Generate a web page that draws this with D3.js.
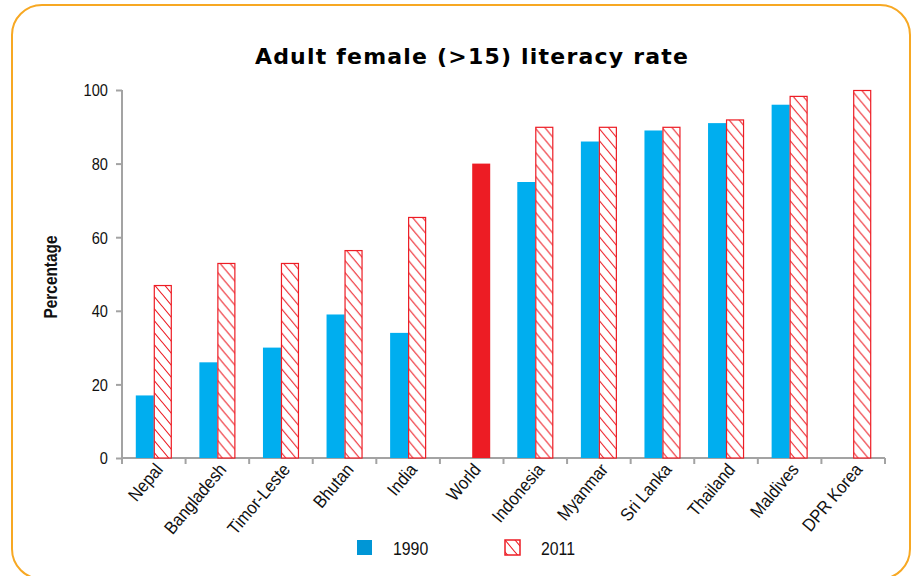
<!DOCTYPE html>
<html>
<head>
<meta charset="utf-8">
<script src="https://cdn.jsdelivr.net/npm/d3@7"></script>
<style>
  body { margin: 0; background: #fff; }
  .lbl { font-family: "Liberation Sans", Arial, sans-serif; fill: #111; }
</style>
</head>
<body>
<svg id="chart" width="913" height="576"></svg>
<script>
var countries = ["Nepal", "Bangladesh", "Timor-Leste", "Bhutan", "India", "World",
                 "Indonesia", "Myanmar", "Sri Lanka", "Thailand", "Maldives", "DPR Korea"];
var v1990 = [17, 26, 30, 39, 34, null, 75, 86, 89, 91, 96, null];
var v2011 = [47, 53, 53, 56.5, 65.5, 80, 90, 90, 90, 92, 98.4, 100];
var series = ["1990", "2011"];
var yTicks = [0, 20, 40, 60, 80, 100];
var highlight = "World";

var svg = d3.select("#chart"),
    margin = {top: 90, right: 28, bottom: 118, left: 122},
    width = +svg.attr("width") - margin.left - margin.right,
    height = +svg.attr("height") - margin.top - margin.bottom;

var blue = "#00aeef", red = "#ed1c24", grey = "#a3a3a3";
var squeeze = 0.88; // narrow the sans text a bit, like the condensed face of the original

// frame
svg.append("rect")
    .attr("x", 12).attr("y", 5)
    .attr("width", 898).attr("height", 574)
    .attr("rx", 30).attr("ry", 30)
    .attr("fill", "none")
    .attr("stroke", "#f7a823")
    .attr("stroke-width", 2);

var defs = svg.append("defs");
var pat = defs.append("pattern")
    .attr("id", "hatch")
    .attr("patternUnits", "userSpaceOnUse")
    .attr("width", 10).attr("height", 12);
pat.append("rect").attr("width", 10).attr("height", 12).attr("fill", "#fff");
pat.append("path")
    .attr("d", "M-2,-2.4 L12,14.4 M-12,-2.4 L2,14.4 M8,-2.4 L22,14.4")
    .attr("stroke", red)
    .attr("stroke-width", 1.1);

svg.append("text")
    .attr("x", 472).attr("y", 64)
    .attr("text-anchor", "middle")
    .style("font-family", "'DejaVu Sans', Verdana, sans-serif")
    .style("font-weight", "bold")
    .style("font-size", "22px")
    .style("letter-spacing", "1.2px")
    .text("Adult female (>15) literacy rate");

var g = svg.append("g")
    .attr("transform", "translate(" + margin.left + "," + margin.top + ")");

var x = d3.scaleBand()
    .domain(countries)
    .range([0, width])
    .padding(0);

var bw = 18;
var xs = d3.scaleBand()
    .domain(series)
    .range([x.bandwidth() / 2 - bw, x.bandwidth() / 2 + bw]);

var y = d3.scaleLinear()
    .domain([0, 100])
    .range([height, 0]);

// y axis
var yAxis = g.append("g").call(d3.axisLeft(y).tickValues(yTicks).tickSize(6).tickPadding(8));
yAxis.select(".domain").attr("stroke", grey).attr("stroke-width", 2).attr("d", "M0," + y(100) + "V" + y(0));
yAxis.selectAll(".tick line").attr("stroke", grey).attr("stroke-width", 2);
yAxis.selectAll(".tick text")
    .attr("class", "lbl")
    .style("font-size", "17px")
    .attr("x", null)
    .attr("transform", "translate(-14,0) scale(0.86,1)")
    .attr("dy", "0.35em");

// x axis: ticks at band edges
var edges = countries.map(function(c) { return x(c); }).concat([width]);
var xa = g.append("g").attr("transform", "translate(0," + height + ")");
xa.append("line")
    .attr("x1", 0).attr("x2", width)
    .attr("stroke", grey).attr("stroke-width", 2);
xa.selectAll("line.tk")
  .data(edges)
  .enter().append("line")
    .attr("class", "tk")
    .attr("x1", function(d) { return d; })
    .attr("x2", function(d) { return d; })
    .attr("y1", 0).attr("y2", 6)
    .attr("stroke", grey).attr("stroke-width", 2);

xa.selectAll("text")
  .data(countries)
  .enter().append("text")
    .attr("class", "lbl")
    .style("font-size", "18px")
    .attr("text-anchor", "end")
    .attr("transform", function(d) {
      return "translate(" + (x(d) + x.bandwidth() / 2 + 10) + ",12) rotate(-50) scale(0.9,1)";
    })
    .text(function(d) { return d; });

// bars
var rows = countries.map(function(c, i) {
  return {c: c, vals: [
    {s: "1990", v: v1990[i]},
    {s: "2011", v: v2011[i]}
  ]};
});

var grp = g.selectAll("g.cat")
  .data(rows)
  .enter().append("g")
    .attr("class", "cat")
    .attr("transform", function(d) { return "translate(" + x(d.c) + ",0)"; });

grp.selectAll("rect")
  .data(function(d) {
    return d.vals.filter(function(e) { return e.v != null; })
      .map(function(e) { return {c: d.c, s: e.s, v: e.v}; });
  })
  .enter().append("rect")
    .attr("x", function(d) { return xs(d.s) + (d.s === "2011" ? 0.5 : 0); })
    .attr("y", function(d) { return y(d.v) + (d.s === "2011" && d.c !== highlight ? 0.5 : 0); })
    .attr("width", function(d) { return d.s === "2011" && d.c !== highlight ? bw - 1 : bw; })
    .attr("height", function(d) { return y(0) - y(d.v) - (d.s === "2011" && d.c !== highlight ? 0.5 : 0); })
    .attr("fill", function(d) {
      if (d.c === highlight) return red;
      return d.s === "1990" ? blue : "url(#hatch)";
    })
    .attr("stroke", function(d) { return d.s === "2011" && d.c !== highlight ? red : "none"; })
    .attr("stroke-width", 1.2);

// y label
svg.append("text")
    .attr("class", "lbl")
    .attr("transform", "translate(57,277) rotate(-90) scale(" + squeeze + ",1)")
    .attr("text-anchor", "middle")
    .style("font-size", "17.5px")
    .style("font-weight", "bold")
    .text("Percentage");

// legend
var leg = svg.append("g").attr("transform", "translate(0,540)");
var legItems = [
  {s: series[0], x: 357, fill: "#0096d6", stroke: "none"},
  {s: series[1], x: 505, fill: "url(#hatch)", stroke: red}
];
var li = leg.selectAll("g").data(legItems).enter().append("g")
    .attr("transform", function(d) { return "translate(" + d.x + ",0)"; });
li.append("rect")
    .attr("width", 15).attr("height", 15)
    .attr("fill", function(d) { return d.fill; })
    .attr("stroke", function(d) { return d.stroke; })
    .attr("stroke-width", 1.5);
li.append("text")
    .attr("class", "lbl")
    .attr("transform", "translate(36,15) scale(" + squeeze + ",1)")
    .style("font-size", "18px")
    .text(function(d) { return d.s; });
</script>
</body>
</html>
